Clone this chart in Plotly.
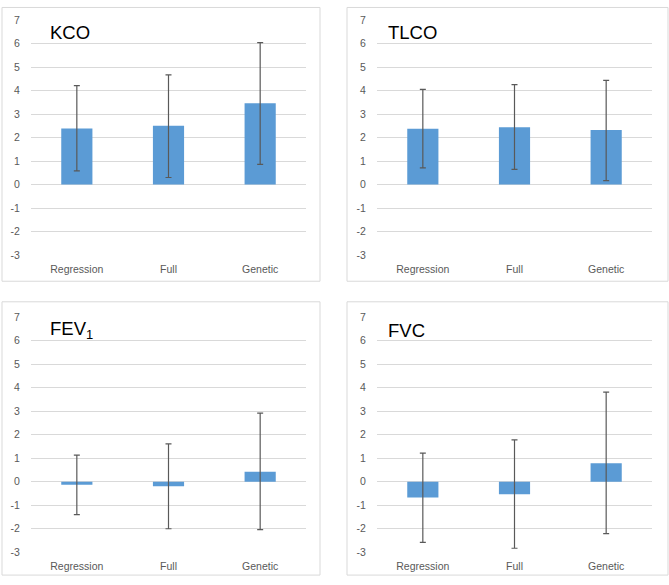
import plotly.graph_objects as go

categories = ["Regression", "Full", "Genetic"]
titles = ["KCO", "TLCO", "FEV<sub>1</sub>", "FVC"]

kco_mean = [2.39, 2.50, 3.46]
kco_err_plus = [1.82, 2.17, 2.58]
kco_err_minus = [1.81, 2.20, 2.60]

tlco_mean = [2.37, 2.44, 2.32]
tlco_err_plus = [1.68, 1.81, 2.11]
tlco_err_minus = [1.66, 1.79, 2.15]

fev1_mean = [-0.13, -0.19, 0.43]
fev1_err_plus = [1.26, 1.80, 2.49]
fev1_err_minus = [1.27, 1.81, 2.47]

fvc_mean = [-0.67, -0.53, 0.79]
fvc_err_plus = [1.89, 2.31, 3.02]
fvc_err_minus = [1.91, 2.30, 3.00]

y_ticks = [-3, -2, -1, 0, 1, 2, 3, 4, 5, 6, 7]
y_tick_labels = ["-3", "-2", "-1", "0", "1", "2", "3", "4", "5", "6", "7"]

W, H = 669, 585
BAR = "#5B9BD5"
GRID = "#D9D9D9"
TXT = "#595959"
FONT = "Liberation Sans"

series = [
    (kco_mean, kco_err_plus, kco_err_minus),
    (tlco_mean, tlco_err_plus, tlco_err_minus),
    (fev1_mean, fev1_err_plus, fev1_err_minus),
    (fvc_mean, fvc_err_plus, fvc_err_minus),
]

# plot areas in pixels: (x0, x1, ytop, ybottom)
areas = [
    (31, 306, 14.3, 254.3),
    (377, 652, 14.3, 254.3),
    (31, 306, 317.7, 557.7),
    (377, 652, 317.7, 557.7),
]
boxes = [
    (2, 320, 1.5, 281),
    (347, 668, 1.5, 281),
    (2, 320, 302, 581),
    (347, 668, 302, 581),
]
title_pos = [(48, 27), (386, 27), (48, 331), (386, 331)]

fig = go.Figure()
shapes = []
annotations = []
for i, ((m, ep, em), (x0, x1, yt, yb), box, tp, title) in enumerate(
        zip(series, areas, boxes, title_pos, titles)):
    n = "" if i == 0 else str(i + 1)
    fig.add_trace(go.Bar(
        x=categories, y=m, marker=dict(color=BAR, line=dict(width=0)),
        error_y=dict(type="data", array=ep, arrayminus=em, symmetric=False,
                     color="#595959", thickness=1.2, width=3),
        xaxis="x" + n, yaxis="y" + n, showlegend=False, hoverinfo="skip",
    ))
    fig.update_layout(**{
        "xaxis" + n: dict(domain=[x0 / W, x1 / W], anchor="y" + n,
                          showgrid=False, showline=False, ticks="outside",
                          ticklen=4, tickcolor="rgba(0,0,0,0)",
                          tickfont=dict(size=10.5, color=TXT, family=FONT),
                          fixedrange=True),
        "yaxis" + n: dict(domain=[(H - yb) / H, (H - yt) / H], anchor="x" + n,
                          range=[-3, 7], tickmode="array", tickvals=y_ticks,
                          ticktext=y_tick_labels, showgrid=True,
                          gridcolor=GRID, gridwidth=1, zeroline=False,
                          showline=False, ticks="outside", ticklen=8,
                          tickcolor="rgba(0,0,0,0)",
                          tickfont=dict(size=10.5, color=TXT, family=FONT),
                          fixedrange=True),
    })
    shapes.append(dict(type="rect", xref="paper", yref="paper",
                       x0=box[0] / W, x1=box[1] / W,
                       y0=(H - box[3]) / H, y1=(H - box[2]) / H,
                       line=dict(color=GRID, width=1), layer="below"))
    annotations.append(dict(text=title, xref="paper", yref="paper",
                            x=tp[0] / W, y=(H - tp[1]) / H, xanchor="left",
                            yanchor="middle", showarrow=False,
                            font=dict(size=18.5, color="#000000", family=FONT)))

fig.update_layout(width=W, height=H, margin=dict(l=0, r=0, t=0, b=0),
                  paper_bgcolor="white", plot_bgcolor="white",
                  bargap=0.66, shapes=shapes, annotations=annotations)
post = (
    "document.body.style.margin='0';document.body.style.padding='0';"
    "document.documentElement.style.overflow='hidden';"
    "document.body.style.overflow='hidden';"
)
fig.write_html("out.html", config={"displayModeBar": False}, post_script=post)
